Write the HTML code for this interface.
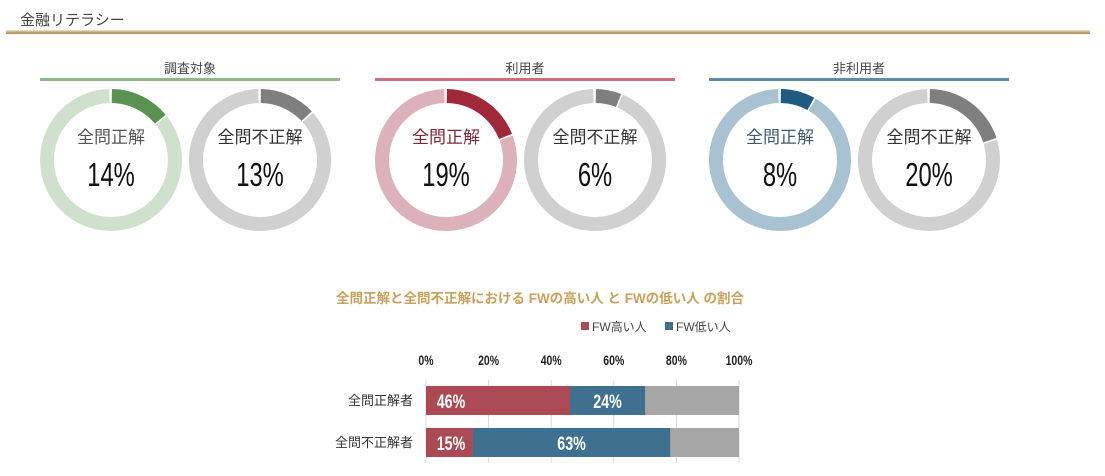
<!DOCTYPE html>
<html><head><meta charset="utf-8">
<style>
body{margin:0;width:1105px;height:476px;background:#fff;overflow:hidden;font-family:"Liberation Sans","Noto Sans CJK JP",sans-serif;}
svg{position:absolute;left:0;top:0}
</style></head>
<body>
<svg id="chart" width="1105" height="476">
  <defs>
    <linearGradient id="hdr" x1="0" y1="0" x2="0" y2="1">
      <stop offset="0" stop-color="#efe6d8"/><stop offset="0.5" stop-color="#c8a878"/><stop offset="1" stop-color="#a88a5c"/>
    </linearGradient>
  </defs>
  <text x="20" y="25" font-size="15" fill="#444" font-family="'Liberation Sans','Noto Sans CJK JP',sans-serif">金融リテラシー</text>
  <rect x="6" y="30" width="1084" height="4" fill="url(#hdr)"/>
  <g id="donuts"></g>
  <g id="bars"></g>
</svg>
<script>
const NS='http://www.w3.org/2000/svg';
function mk(tag,attrs,parent){const e=document.createElementNS(NS,tag);for(const k in attrs)e.setAttribute(k,attrs[k]);parent.appendChild(e);return e;}

// ---- donut data ----
const groupNames=['調査対象','利用者','非利用者'];
const correctPct=[14,19,8];
const incorrectPct=[13,6,20];
const groupColors=[['#5b9254','#cfe0cc','#6a6a6a','#8fb88a'],['#a12838','#ddb1b9','#7a2a36','#c9707c'],['#1f5b80','#a9c2d1','#3f5a6e','#5f8aa8']];

const dg=document.getElementById('donuts');
const groupX=[40,375,709];
const R=71, r=57, CY=160;
function arcPath(cx,cy,a0,a1){
  const p=(a,rad)=>[cx+rad*Math.sin(a),cy-rad*Math.cos(a)];
  const large=(a1-a0)>Math.PI?1:0;
  const [x0,y0]=p(a0,R),[x1,y1]=p(a1,R),[x2,y2]=p(a1,r),[x3,y3]=p(a0,r);
  return `M${x0},${y0}A${R},${R} 0 ${large} 1 ${x1},${y1}L${x2},${y2}A${r},${r} 0 ${large} 0 ${x3},${y3}Z`;
}
function donut(cx,val,dark,light,label,labelColor,name){
  const g=mk('g',{},dg);
  
  
  const a=val/100*2*Math.PI, gap=0.025;
  const bg=mk('path',{d:arcPath(cx,CY,a+gap,2*Math.PI-gap),fill:light},g);
  
  
  const fg=mk('path',{d:arcPath(cx,CY,gap/2,a),fill:dark},g);
  
  
  const t=mk('text',{x:cx,y:CY-17,'text-anchor':'middle','font-size':17,fill:labelColor},g);
  t.textContent=label;
  
  
  const v=mk('text',{x:0,y:0,'text-anchor':'middle','font-size':33,fill:'#111',transform:`translate(${cx},${CY+26}) scale(0.72,1)`},g);
  v.textContent=val+'%';
  
  
}
groupNames.forEach((nm,i)=>{
  const x=groupX[i], c=groupColors[i];
  const h=mk('text',{x:x+150,y:73,'text-anchor':'middle','font-size':13,fill:'#444'},dg);
  h.textContent=nm;
  
  
  const l=mk('rect',{x:x,y:78,width:300,height:3,fill:c[3]},dg);
  
  
  donut(x+71,correctPct[i],c[0],c[1],'全問正解',i===0?'#555':c[2],'donut-correct');
  donut(x+220,incorrectPct[i],'#7f7f7f','#d0d0d0','全問不正解','#333','donut-incorrect');
});

// ---- bar data ----
const barCategories=['全問正解者','全問不正解者'];
const fwHigh=[46,15];
const fwLow=[24,63];
const tickLabels=['0%','20%','40%','60%','80%','100%'];
const tickValues=[0,20,40,60,80,100];

const bg=document.getElementById('bars');
const X0=426,X1=739;
const xs=v=>X0+(X1-X0)*v/100;
const rowY=[386,428], BH=29;

const tt=mk('text',{x:540,y:303,'text-anchor':'middle','font-size':13.5,'font-weight':'bold',fill:'#c9a05c'},bg);
tt.textContent='全問正解と全問不正解における  FWの高い人 と FWの低い人 の割合';



const legend=[['FW高い人','#ab4a55',581],['FW低い人','#3f7090',665]];
legend.forEach(([t,c,x])=>{
  const g=mk('g',{},bg);
  
  
  mk('rect',{x:x,y:322,width:8,height:8,fill:c},g);
  const tx=mk('text',{x:x+11,y:331,'font-size':12,fill:'#444'},g);
  tx.textContent=t;
});

tickValues.forEach((v,i)=>{
  const gl=mk('line',{x1:xs(v),x2:xs(v),y1:380,y2:463,stroke:'#d9d9d9','stroke-width':1},bg);
  
  
  const t=mk('text',{x:0,y:0,'text-anchor':'middle','font-size':14,'font-weight':'bold',fill:'#222',transform:`translate(${xs(v)},${365}) scale(0.75,1)`},bg);
  t.textContent=tickLabels[i];
  
  
});

barCategories.forEach((cat,i)=>{
  const y=rowY[i];
  const cl=mk('text',{x:413,y:y+19,'text-anchor':'end','font-size':13,fill:'#333'},bg);
  cl.textContent=cat;
  
  
  const rest=mk('rect',{x:xs(0),y:y,width:xs(100)-xs(0),height:BH,fill:'#a6a6a6'},bg);
  
  
  const b1=mk('rect',{x:xs(0),y:y,width:xs(fwHigh[i])-xs(0),height:BH,fill:'#ab4a55'},bg);
  
  
  const b2=mk('rect',{x:xs(fwHigh[i]),y:y,width:xs(fwHigh[i]+fwLow[i])-xs(fwHigh[i]),height:BH,fill:'#3f7090'},bg);
  
  
  const l1=mk('text',{x:0,y:0,'text-anchor':'middle','font-size':19,'font-weight':'bold',fill:'#fff',transform:`translate(${xs(0)+25},${y+22}) scale(0.75,1)`},bg);
  l1.textContent=fwHigh[i]+'%';
  
  
  const l2=mk('text',{x:0,y:0,'text-anchor':'middle','font-size':19,'font-weight':'bold',fill:'#fff',transform:`translate(${(xs(fwHigh[i])+xs(fwHigh[i]+fwLow[i]))/2},${y+22}) scale(0.75,1)`},bg);
  l2.textContent=fwLow[i]+'%';
  
  
});
</script>
</body></html>
